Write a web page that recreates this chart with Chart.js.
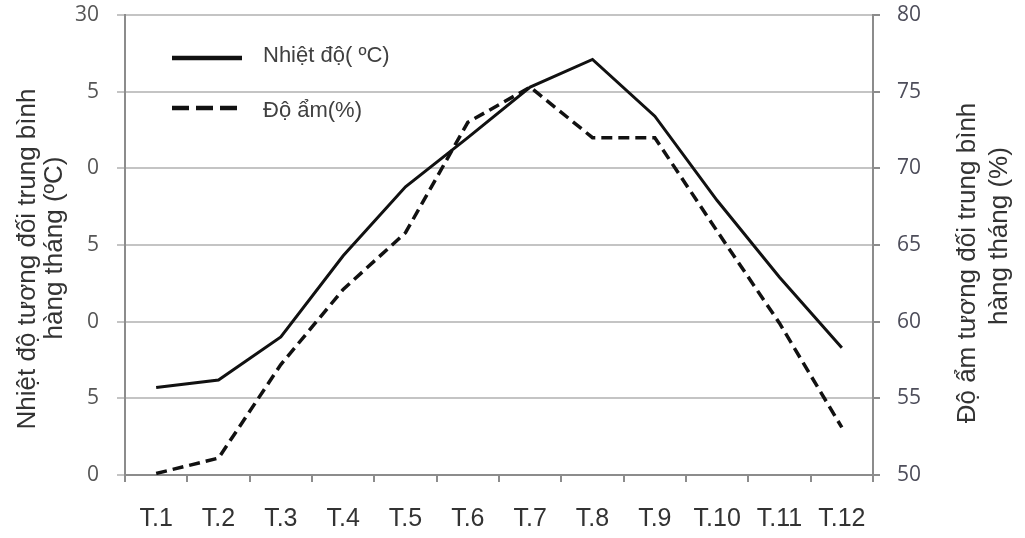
<!DOCTYPE html>
<html>
<head>
<meta charset="utf-8">
<script src="https://cdn.jsdelivr.net/npm/chart.js@4.4.1/dist/chart.umd.min.js"></script>
<style>
    body { margin: 0; background: #fff; }
    #wrap { width: 1025px; height: 538px; }
</style>
</head>
<body>
<div id="wrap"><canvas id="chart"></canvas></div>
<script>
const months = ['T.1', 'T.2', 'T.3', 'T.4', 'T.5', 'T.6', 'T.7', 'T.8', 'T.9', 'T.10', 'T.11', 'T.12'];
const nhietDo = [5.7, 6.2, 9.0, 14.3, 18.8, 22.0, 25.3, 27.1, 23.4, 17.9, 12.9, 8.3];
const doAm = [50.1, 51.1, 57.2, 62.1, 65.8, 73.0, 75.3, 72.0, 72.0, 65.9, 59.9, 53.1];

// left tick text as printed in the picture (leading digits are cut off there)
const leftTickValues = [0, 5, 10, 15, 20, 25, 30];
const leftTickText = ['0', '5', '0', '5', '0', '5', '30'];

const leftTitle = ['Nhiệt độ tương đối trung bình', 'hàng tháng (ºC)'];
const rightTitle = ['Độ ẩm tương đối trung bình', 'hàng tháng (%)'];

const gridColor = '#c4c4c4';
const axisColor = '#8c8c8c';
const textFont = "'Liberation Sans', Arial, sans-serif";
const tickFont = { family: "'Open Sans', sans-serif", size: 21 };

const titlesPlugin = {
    id: 'sideTitles',
    afterDraw(chart) {
        const ctx = chart.ctx;
        ctx.save();
        ctx.fillStyle = '#333';
        ctx.font = '26px ' + textFont;
        ctx.textAlign = 'center';
        ctx.textBaseline = 'middle';
        const draw = (text, x, y) => {
            ctx.save();
            ctx.translate(x, y);
            ctx.rotate(-Math.PI / 2);
            ctx.fillText(text, 0, 0);
            ctx.restore();
        };
        draw(leftTitle[0], 28, 259);
        draw(leftTitle[1], 55, 248);
        draw(rightTitle[0], 968, 263);
        draw(rightTitle[1], 1000, 236);
        ctx.restore();
    }
};

const legendPlugin = {
    id: 'insideLegend',
    afterDraw(chart) {
        const ctx = chart.ctx;
        const area = chart.chartArea;
        ctx.save();
        chart.data.datasets.forEach((ds, i) => {
            const y = area.top + 43 + i * 50;
            ctx.strokeStyle = ds.borderColor;
            ctx.lineWidth = 4.5;
            ctx.setLineDash(ds.borderDash ? [17, 7] : []);
            ctx.beginPath();
            ctx.moveTo(area.left + 47, y);
            ctx.lineTo(area.left + (ds.borderDash ? 112 : 117), y);
            ctx.stroke();
            ctx.setLineDash([]);
            ctx.fillStyle = '#404040';
            ctx.font = '22px ' + textFont;
            ctx.textBaseline = 'middle';
            ctx.fillText(ds.label, area.left + 138, y - 2 + i * 5);
        });
        ctx.restore();
    }
};

function fixSide(width) {
    return (scale) => {
        scale.width = width;
        scale.paddingTop = 12;
        scale.paddingBottom = 12;
    };
}

new Chart(document.getElementById('chart'), {
    type: 'line',
    data: {
        labels: months,
        datasets: [
            { label: 'Nhiệt độ( ºC)', data: nhietDo, yAxisID: 'y', borderColor: '#111', borderWidth: 3, pointRadius: 0, tension: 0 },
            { label: 'Độ ẩm(%)', data: doAm, yAxisID: 'y1', borderColor: '#111', borderWidth: 3.5, borderDash: [11, 6], pointRadius: 0, tension: 0 },
        ]
    },
    options: {
        responsive: true,
        maintainAspectRatio: false,
        animation: false,
        layout: { padding: { top: 15, left: 0, right: 0, bottom: 0 } },
        plugins: {
            legend: { display: false },
            tooltip: { enabled: false }
        },
        scales: {
            x: {
                offset: true,
                grid: { offset: true, drawOnChartArea: false, drawTicks: true, tickLength: 7, color: axisColor, lineWidth: 2 },
                border: { color: axisColor, width: 2 },
                ticks: { color: '#333', font: { family: textFont, size: 25 }, padding: 22, maxRotation: 0, autoSkip: false },
                afterFit(scale) { scale.height = 63; }
            },
            y: {
                position: 'left',
                min: 0,
                max: 30,
                afterBuildTicks(scale) { scale.ticks = leftTickValues.map(v => ({ value: v })); },
                ticks: {
                    color: '#555',
                    font: tickFont,
                    padding: 18,
                    callback: (v) => leftTickText[leftTickValues.indexOf(v)]
                },
                grid: { color: gridColor, lineWidth: 2, tickLength: 8 },
                border: { color: axisColor, width: 2 },
                afterFit: fixSide(125)
            },
            y1: {
                position: 'right',
                min: 50,
                max: 80,
                ticks: { stepSize: 5, color: '#4d4d5a', font: tickFont, padding: 17 },
                grid: { drawOnChartArea: false, color: axisColor, lineWidth: 2, tickLength: 7 },
                border: { color: axisColor, width: 2 },
                afterFit: fixSide(152)
            }
        }
    },
    plugins: [titlesPlugin, legendPlugin]
});
</script>
</body>
</html>
